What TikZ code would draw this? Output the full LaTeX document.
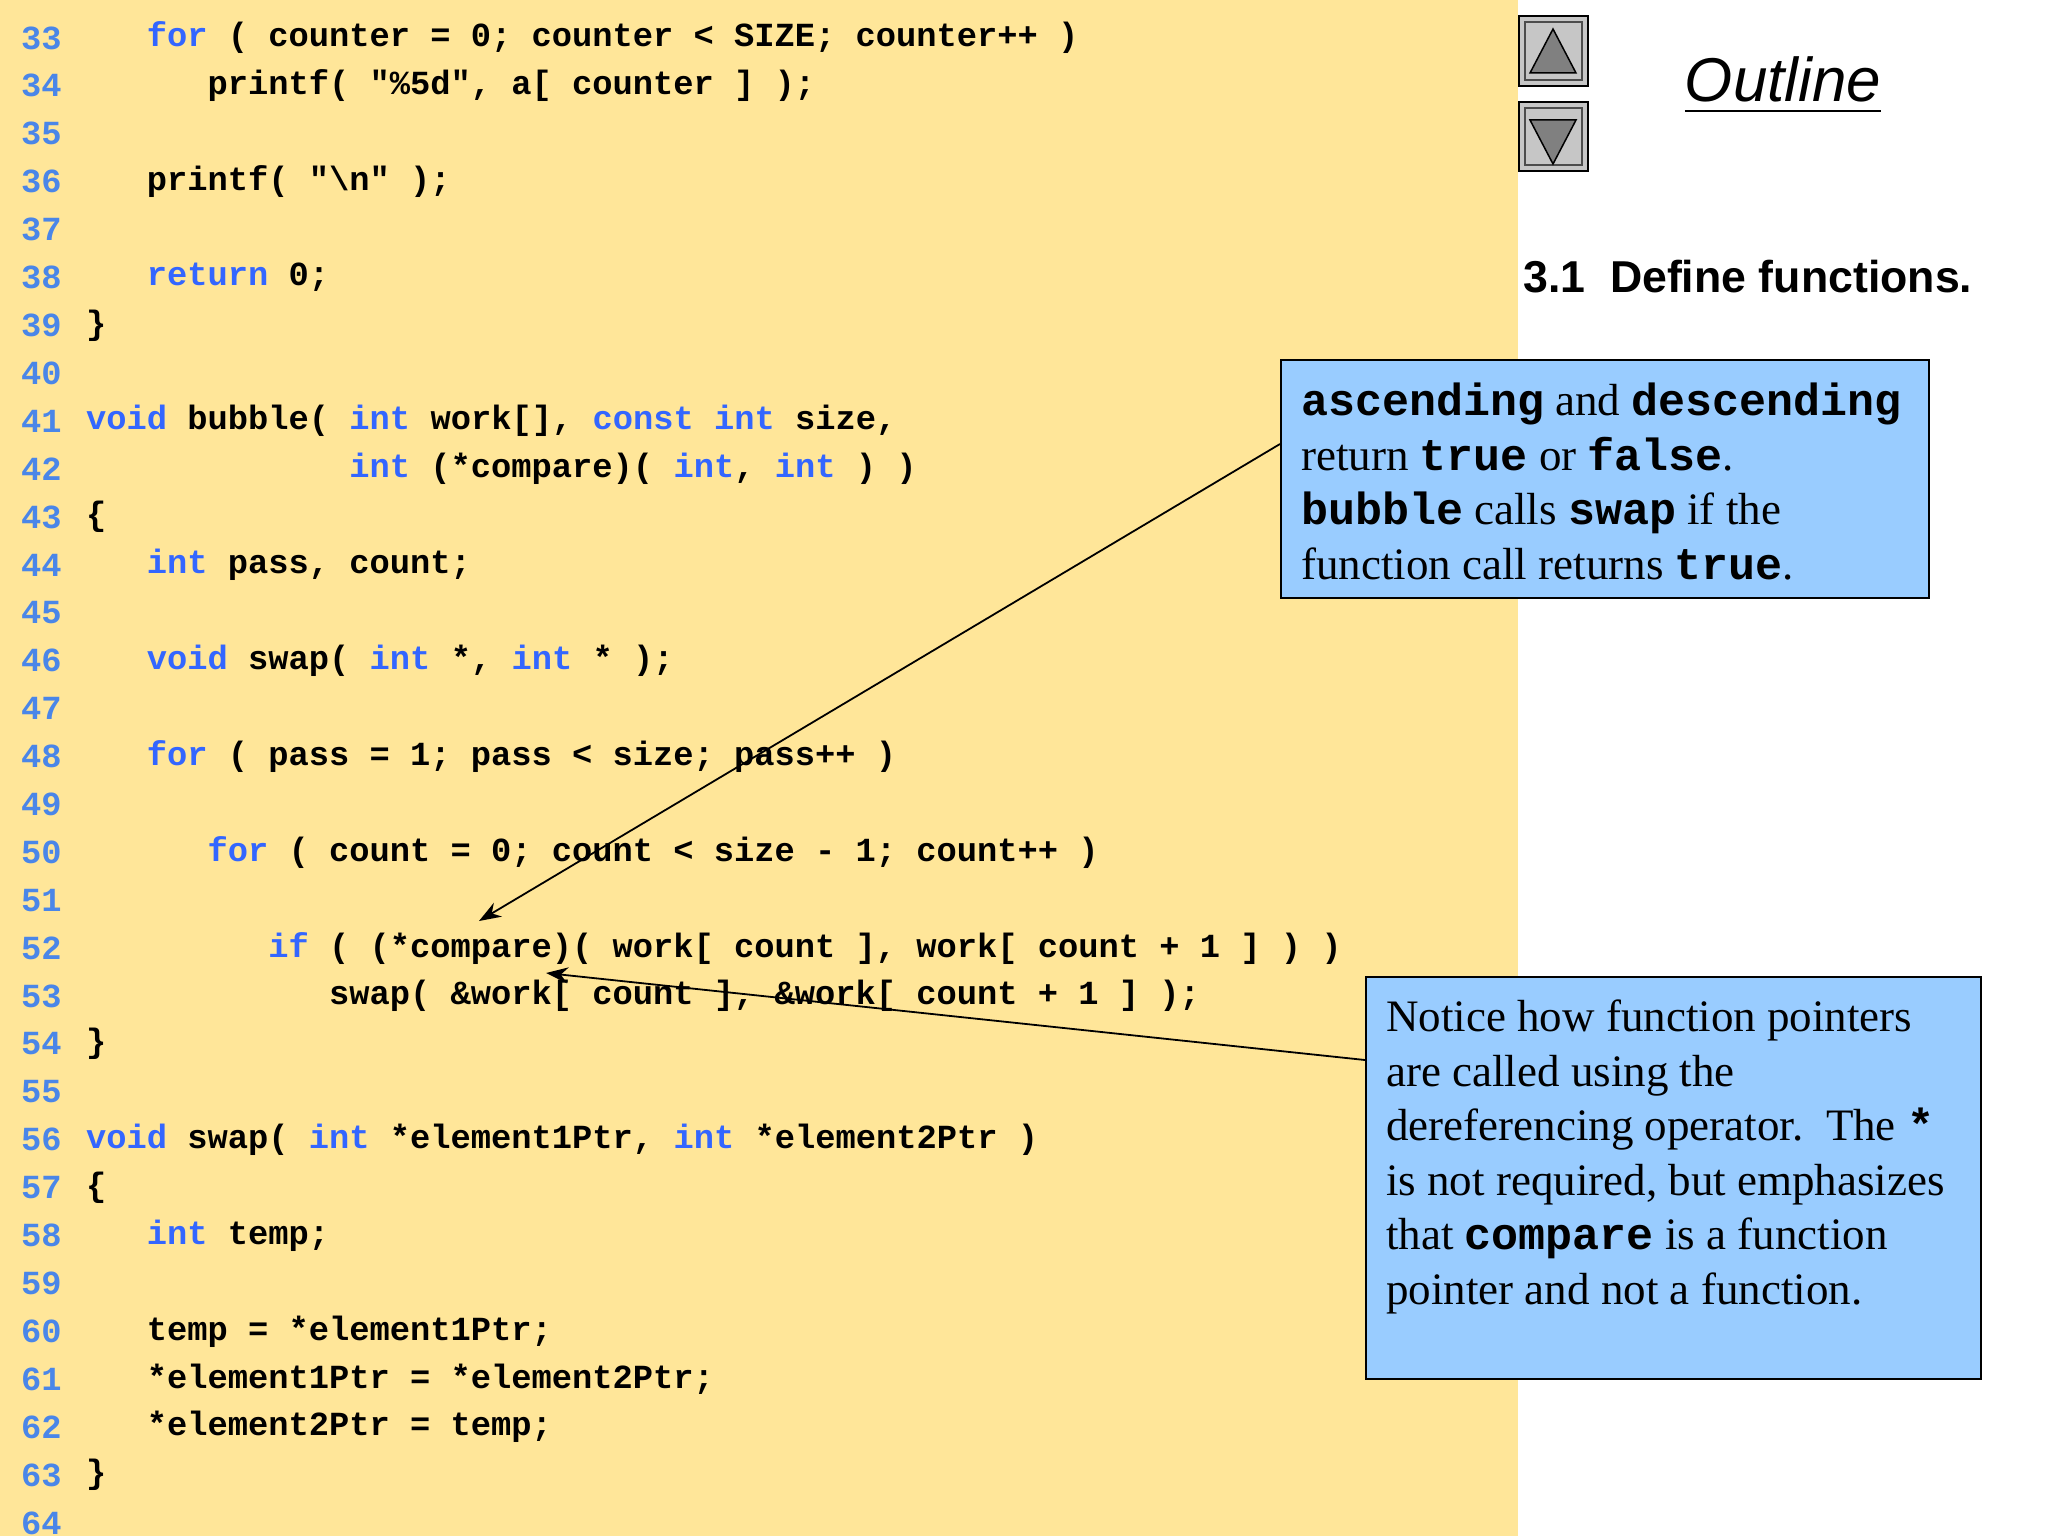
\documentclass[tikz,border=0pt]{standalone}
\usepackage{fontspec}
\usetikzlibrary{arrows.meta}
\setmainfont{Liberation Serif}
\setmonofont{Liberation Mono}
\newfontfamily\gothic{Liberation Sans}
\definecolor{bgy}{HTML}{FFE699}
\definecolor{kwc}{HTML}{3366FF}
\definecolor{lnc}{HTML}{4A86E8}
\definecolor{boxc}{HTML}{99CCFF}
\newcommand{\kw}[1]{\textcolor{kwc}{#1}}
\newcommand{\mb}[1]{{\ttfamily\bfseries #1}}
\begin{document}
\begin{tikzpicture}[x=1pt,y=-1pt,
  codeline/.style={anchor=west,inner sep=0,font=\fontsize{33.75}{40}\ttfamily\bfseries},
  lnum/.style={anchor=west,inner sep=0,text=lnc,font=\fontsize{33.75}{40}\ttfamily\bfseries},
  callout/.style={draw=black,line width=2,fill=boxc,anchor=north west,inner sep=0},
  callouttext/.style={anchor=north west,inner sep=0,align=left,font=\fontsize{45}{54.5}\selectfont},
  pointer/.style={line width=1.8,-{Stealth[length=22,width=16]}},
  btn/.style={draw=black,line width=2,fill=gray!45}]
\useasboundingbox (0,0) rectangle (2048,1536);
\fill[bgy] (0,0) rectangle (1518,1536);
\fill[white] (1518,0) rectangle (2048,1536);
% line numbers
\foreach \n [count=\i from 0] in {33,...,64}
  \node[lnum] (ln\n) at (21,{38+47.9*\i}) {\n};
\newcommand{\cl}[3]{\node[codeline] (c#1) at ({86+20.25*#2},{38+47.9*(#1-33)}) {#3};}
\cl{33}{3}{\kw{for} ( counter = 0; counter < SIZE; counter++ )}
\cl{34}{6}{printf( "\%5d", a[ counter ] );}
\cl{36}{3}{printf( "\textbackslash n" );}
\cl{38}{3}{\kw{return} 0;}
\cl{39}{0}{\}}
\cl{41}{0}{\kw{void} bubble( \kw{int} work[], \kw{const} \kw{int} size,}
\cl{42}{13}{\kw{int} (*compare)( \kw{int}, \kw{int} ) )}
\cl{43}{0}{\{}
\cl{44}{3}{\kw{int} pass, count;}
\cl{46}{3}{\kw{void} swap( \kw{int} *, \kw{int} * );}
\cl{48}{3}{\kw{for} ( pass = 1; pass < size; pass++ )}
\cl{50}{6}{\kw{for} ( count = 0; count < size - 1; count++ )}
\cl{52}{9}{\kw{if} ( (*compare)( work[ count ], work[ count + 1 ] ) )}
\cl{53}{12}{swap( \&work[ count ], \&work[ count + 1 ] );}
\cl{54}{0}{\}}
\cl{56}{0}{\kw{void} swap( \kw{int} *element1Ptr, \kw{int} *element2Ptr )}
\cl{57}{0}{\{}
\cl{58}{3}{\kw{int} temp;}
\cl{60}{3}{temp = *element1Ptr;}
\cl{61}{3}{*element1Ptr = *element2Ptr;}
\cl{62}{3}{*element2Ptr = temp;}
\cl{63}{0}{\}}
% buttons
\draw[btn] (1519,16) rectangle (1588,86);
\draw[black!70,line width=1.5] (1525,22) rectangle (1582,80);
\fill[gray] (1553,29) -- (1576,73) -- (1530,73) -- cycle;
\draw[black,line width=1.5] (1553,29) -- (1576,73) -- (1530,73) -- cycle;
\draw[btn] (1519,102) rectangle (1588,171);
\draw[black!70,line width=1.5] (1525,108) rectangle (1582,165);
\fill[gray] (1553,164) -- (1576,120) -- (1530,120) -- cycle;
\draw[black,line width=1.5] (1553,164) -- (1576,120) -- (1530,120) -- cycle;
% titles
\node[inner sep=0] (outline) at (1783,86) {\resizebox{196pt}{!}{\gothic\itshape\underline{Outline}}};
\node[inner sep=0,anchor=west] (sect) at (1523,277) {\resizebox{449pt}{!}{\gothic\bfseries 3.1\ \ Define functions.}};
% callouts
\node[callout,minimum width=648,minimum height=238] (b1) at (1280,359) {};
\node[callouttext] (b1t) at (1301,383)
 {\mb{ascending} and \mb{descending}\\ return \mb{true} or \mb{false}.\\ \mb{bubble} calls \mb{swap} if the\\ function call returns \mb{true}.};
\node[callout,minimum width=615,minimum height=402] (b2) at (1365,976) {};
\node[callouttext] (b2t) at (1386,1000)
 {Notice how function pointers\\ are called using the\\ dereferencing operator.\ \ The \mb{*}\\ is not required, but emphasizes\\ that \mb{compare} is a function\\ pointer and not a function.};
\coordinate (t1) at (479,921);
\coordinate (t2) at (546,973);
\coordinate (s1) at (1280,444);
\coordinate (s2) at (1365,1060);
\draw[pointer] (s1) -- (t1);
\draw[pointer] (s2) -- (t2);
\end{tikzpicture}
\end{document}
